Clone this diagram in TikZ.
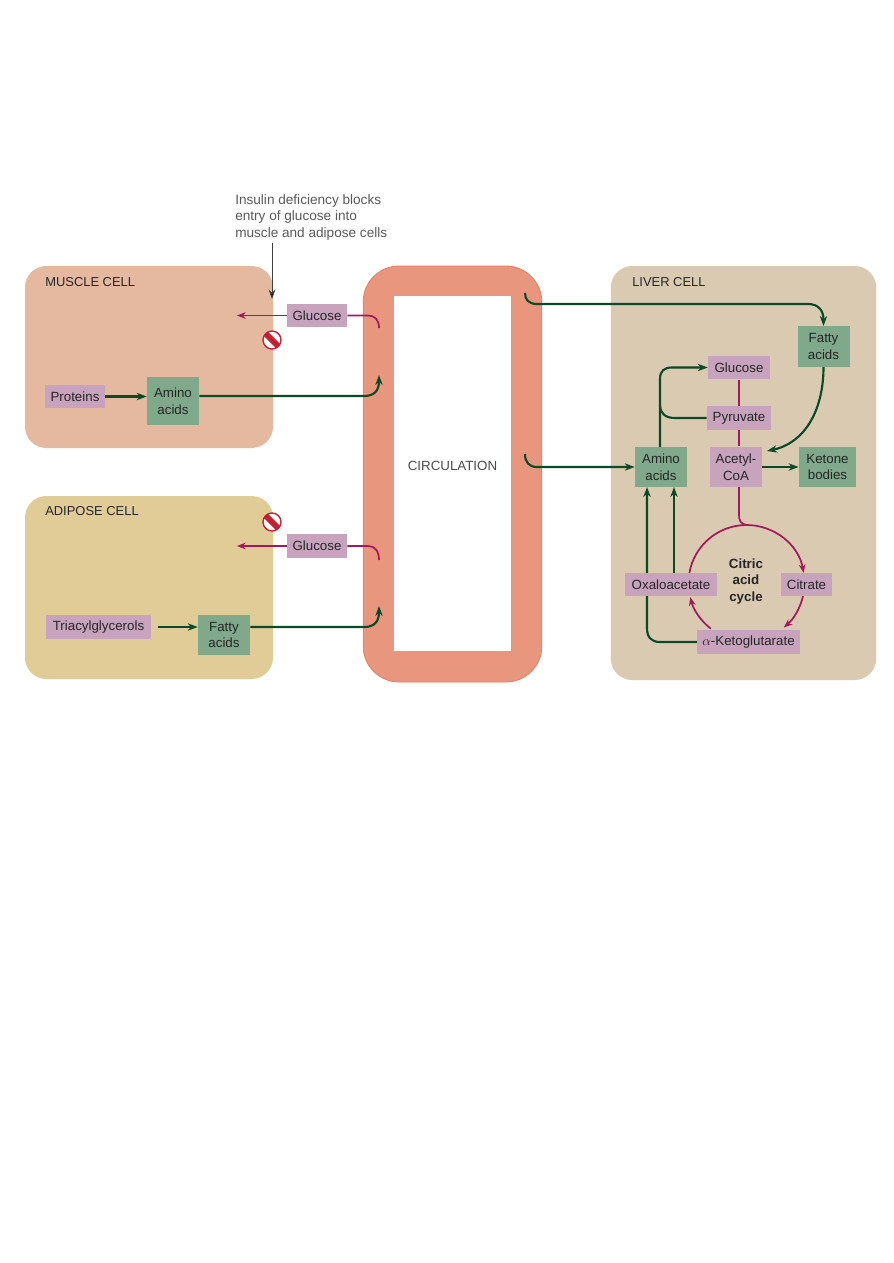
\documentclass[tikz,border=0pt]{standalone}
\usepackage{fontspec}
\setmainfont{Liberation Sans}
\usetikzlibrary{arrows.meta,calc}
\definecolor{musclefill}{HTML}{E4B9A0}
\definecolor{adipfill}{HTML}{E1CB97}
\definecolor{liverfill}{HTML}{DACAB2}
\definecolor{circfill}{HTML}{E8977E}
\definecolor{circedge}{HTML}{EA7A5C}
\definecolor{pinkbox}{HTML}{C8A3BE}
\definecolor{greenbox}{HTML}{7FA98A}
\definecolor{magline}{HTML}{A3195B}
\definecolor{greenline}{HTML}{0A4A25}
\definecolor{stopred}{HTML}{C4202F}
\pgfdeclarelayer{cells}
\pgfdeclarelayer{lines}
\pgfsetlayers{cells,lines,main}
\tikzset{
  x=0.75pt,y=-0.75pt,
  lab/.style={font=\fontsize{10}{12.4}\selectfont,text=black!85,inner sep=0pt,align=center},
  pbox/.style={lab,fill=pinkbox,minimum height=17.6pt},
  gbox/.style={lab,fill=greenbox,minimum height=30.4pt},
  cellbox/.style={rounded corners=16pt,inner sep=0pt},
  celllab/.style={lab,anchor=west,font=\fontsize{9.7}{12}\selectfont},
  gline/.style={draw=greenline,line width=1.6pt},
  mline/.style={draw=magline,line width=1.3pt},
  gtip/.style={-{Stealth[length=7.5pt,width=5.5pt]}},
  mtip/.style={-{Stealth[length=6.5pt,width=5pt]}},
  stopsign/.style={circle,draw=stopred,fill=white,line width=0.8pt,minimum size=13.5pt,inner sep=0pt}
}
\newcommand{\stopbar}[1]{%
  \begin{scope}
    \clip (#1) circle[radius=6.7pt];
    \draw[stopred,line width=4.4pt] ($(#1)+(-12,-12)$) -- ($(#1)+(12,12)$);
  \end{scope}}
\begin{document}
\begin{tikzpicture}
\useasboundingbox (0,0) rectangle (893,1263);
% cells
\begin{pgfonlayer}{cells}
\node[cellbox,fill=musclefill,minimum width=186pt,minimum height=136.5pt] (muscle) at (149,357) {};
\node[cellbox,fill=adipfill,minimum width=186pt,minimum height=137.25pt] (adipose) at (149,587.5) {};
\node[cellbox,fill=liverfill,minimum width=199pt,minimum height=310.5pt] (liver) at (743.5,473) {};
\node[rounded corners=27pt,fill=circfill,draw=circedge,line width=0.6pt,minimum width=134pt,minimum height=312pt,inner sep=0pt] (circ) at (452.5,474) {};
\node[fill=white,minimum width=87.75pt,minimum height=266.25pt,inner sep=0pt] (circin) at (452.5,473.5) {};
\end{pgfonlayer}
% labels
\node[celllab] (lm) at (45,282) {MUSCLE CELL};
\node[celllab] (la) at (45,511) {ADIPOSE CELL};
\node[celllab] (ll) at (632,282) {LIVER CELL};
\node[lab,text=black!70] (lc) at (452.5,466) {CIRCULATION};
\node[lab,anchor=north west,align=left,text=black!65,font=\fontsize{10.2}{12.4}\selectfont] (note) at (235,194) {Insulin deficiency blocks\\entry of glucose into\\muscle and adipose cells};
% muscle nodes
\node[pbox,minimum width=45pt] (gm) at (317,315.5) {Glucose};
\node[pbox,minimum width=45pt] (prot) at (75,396.5) {Proteins};
\node[gbox,minimum width=39pt,minimum height=36pt] (am) at (173,401) {Amino\\acids};
% adipose nodes
\node[pbox,minimum width=45pt] (ga) at (317,546) {Glucose};
\node[pbox,minimum width=79pt] (tri) at (98.5,627) {Triacylglycerols};
\node[gbox,minimum width=39pt] (fa) at (224,635) {Fatty\\acids};
% liver nodes
\node[gbox,minimum width=39pt] (lf) at (823.5,346.5) {Fatty\\acids};
\node[pbox,minimum width=46.5pt] (lg) at (739,367.5) {Glucose};
\node[pbox,minimum width=48pt] (py) at (739,418) {Pyruvate};
\node[gbox,minimum width=39pt] (la2) at (661,467) {Amino\\acids};
\node[pbox,minimum width=39pt,minimum height=30.4pt] (ac) at (736,467) {Acetyl-\\CoA};
\node[gbox,minimum width=43pt] (ke) at (827.5,467) {Ketone\\bodies};
\node[pbox,minimum width=69pt] (ox) at (671,584.5) {Oxaloacetate};
\node[pbox,minimum width=38pt] (ci) at (806.5,584.5) {Citrate};
\node[pbox,minimum width=77pt] (kg) at (748.5,642) {$\alpha$-Ketoglutarate};
\node[lab,font=\fontsize{10}{12.4}\selectfont\bfseries] (cyc) at (746,581.5) {Citric\\acid\\cycle};
% stop signs
\node[stopsign] (s1) at (272,340) {};
\stopbar{s1}
\node[stopsign] (s2) at (272,522) {};
\stopbar{s2}
\node[stopsign,fill=none] at (272,340) {};
\node[stopsign,fill=none] at (272,522) {};
% free ends
\coordinate (cg1) at (379,328);
\coordinate (cg2) at (379,560);
\coordinate (tg1) at (237,315.5);
\coordinate (tg2) at (237,546);
\coordinate (ci1) at (379,375);
\coordinate (ci2) at (379,606);
\coordinate (co1) at (525,293);
\coordinate (co2) at (525,454);
\coordinate (cc) at (746.5,583);
\coordinate (insulin) at (272,243);
\coordinate (insulintip) at (272,299);
\begin{pgfonlayer}{lines}
% insulin arrow
\draw[black!75,line width=0.7pt,-{Stealth[length=7pt,width=5pt,fill=black]}] (insulin) -- (insulintip);
% glucose in
\draw[mline,mtip] (gm.west) -- (tg1);
\draw[mline] (gm.east) -- (368,315.5) .. controls (375,315.5) and (379,320) .. (cg1);
\draw[mline,mtip] (ga.west) -- (tg2);
\draw[mline] (ga.east) -- (368,546) .. controls (375,546) and (379,551) .. (cg2);
% muscle
\draw[gline,gtip] (prot.east) -- (am.west |- prot.east);
\draw[gline,gtip] (am.east |- 0,396) -- (364,396) .. controls (374,396) and (379,391) .. (ci1);
% adipose
\draw[gline,gtip] (158,627) -- (fa.west |- 0,627);
\draw[gline,gtip] (fa.east |- 0,627) -- (364,627) .. controls (374,627) and (379,622) .. (ci2);
% circulation to liver
\draw[gline,gtip] (co1) .. controls (525,300) and (529,304) .. (537,304) -- (808,304) .. controls (818,304) and (823.5,310) .. (lf.north);
\draw[gline,gtip] (co2) .. controls (525,462) and (529,467) .. (537,467) -- (la2.west);
% liver green
\draw[gline,gtip] (660,447) -- (660,379) .. controls (660,371) and (664,367.5) .. (672,367.5) -- (lg.west);
\draw[gline] (py.west) -- (675,418) .. controls (666,418) and (660,414) .. (660,405);
\draw[gline,gtip] (lf.south) .. controls (823.5,410) and (805,443) .. (767,451);
\draw[gline,gtip] (ac.east) -- (ke.west);
\draw[gline,gtip] (ox.north -| 674,0) -- (674,487);
\draw[gline,gtip] (kg.west) -- (660,642) .. controls (651,642) and (647,637) .. (647,628) -- (647,487);
% liver magenta
\draw[mline] (lg.south -| 739,0) -- (py.north -| 739,0);
\draw[mline] (py.south -| 739,0) -- (ac.north -| 739,0);
\draw[mline] (739,487) -- (739,515) .. controls (739,521) and (741,524) .. (746.5,525);
% citric acid cycle arcs
\draw[mline,mtip] (cc) ++(-90:58) arc[start angle=-90,end angle=-10,radius=58];
\draw[mline,mtip] (cc) ++(13:58) arc[start angle=13,end angle=50,radius=58];
\draw[mline,mtip] (cc) ++(128:58) arc[start angle=128,end angle=166,radius=58];
\draw[mline] (cc) ++(190:58) arc[start angle=190,end angle=270,radius=58];
\end{pgfonlayer}
\end{tikzpicture}
\end{document}
